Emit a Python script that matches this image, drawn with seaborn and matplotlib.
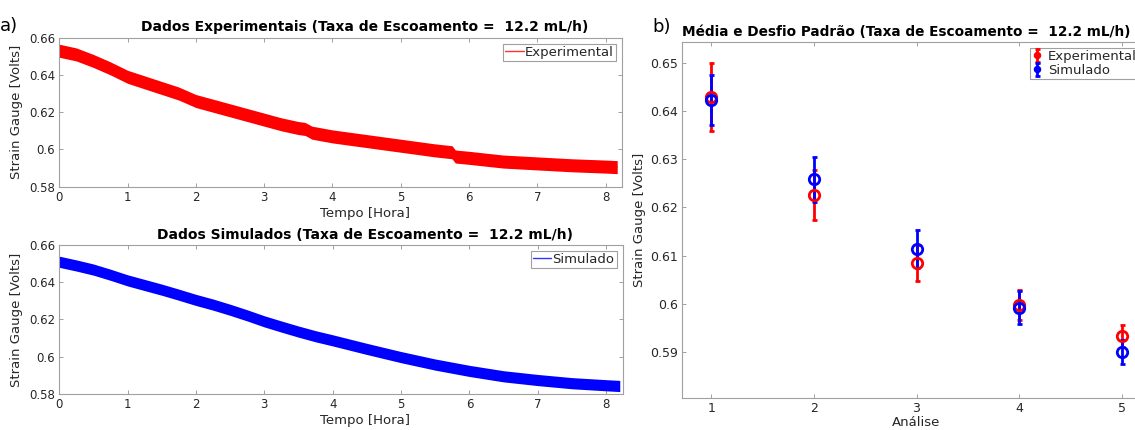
import numpy as np
import pandas as pd
import matplotlib
matplotlib.use("Agg")
import matplotlib.pyplot as plt
from matplotlib.lines import Line2D
import seaborn as sns

# ---------------- data ----------------
# Experimental strain-gauge signal: time [h] with upper/lower envelope of the noisy trace
exp_time = [0.0, 0.25, 0.5, 0.75, 1.0, 1.25, 1.5, 1.75, 2.0, 2.25, 2.5, 2.75, 3.0,
            3.25, 3.5, 3.6, 3.7, 4.0, 4.5, 5.0, 5.5, 5.75, 5.8, 6.0, 6.5, 7.0, 7.5,
            8.0, 8.17]
exp_upper = [0.6565, 0.6545, 0.6510, 0.6470, 0.6425, 0.6395, 0.6365, 0.6335, 0.6295,
             0.6270, 0.6245, 0.6220, 0.6195, 0.6170, 0.6150, 0.6145, 0.6125, 0.6105,
             0.6080, 0.6055, 0.6030, 0.6020, 0.5997, 0.5990, 0.5970, 0.5960, 0.5950,
             0.5943, 0.5940]
exp_lower = [0.6495, 0.6475, 0.6440, 0.6400, 0.6355, 0.6325, 0.6295, 0.6265, 0.6225,
             0.6200, 0.6175, 0.6150, 0.6125, 0.6100, 0.6080, 0.6075, 0.6055, 0.6035,
             0.6010, 0.5985, 0.5960, 0.5950, 0.5927, 0.5920, 0.5900, 0.5890, 0.5880,
             0.5873, 0.5870]

# Simulated signal: time [h] with upper/lower envelope
sim_time = [0.0, 0.25, 0.5, 0.75, 1.0, 1.25, 1.5, 1.75, 2.0, 2.25, 2.5, 2.75, 3.0,
            3.25, 3.5, 3.75, 4.0, 4.5, 5.0, 5.5, 6.0, 6.5, 7.0, 7.5, 8.0, 8.2]
sim_upper = [0.6540, 0.6520, 0.6498, 0.6470, 0.6440, 0.6415, 0.6390, 0.6363, 0.6335,
             0.6310, 0.6282, 0.6252, 0.6220, 0.6192, 0.6165, 0.6140, 0.6118, 0.6072,
             0.6028, 0.5988, 0.5954, 0.5925, 0.5905, 0.5888, 0.5877, 0.5873]
sim_lower = [0.6480, 0.6460, 0.6438, 0.6410, 0.6380, 0.6355, 0.6330, 0.6303, 0.6275,
             0.6250, 0.6222, 0.6192, 0.6160, 0.6132, 0.6105, 0.6080, 0.6058, 0.6012,
             0.5968, 0.5928, 0.5894, 0.5865, 0.5845, 0.5828, 0.5817, 0.5813]

# Mean and standard deviation per analysis
analysis = [1, 2, 3, 4, 5]
exp_mean = [0.6429, 0.6226, 0.6084, 0.5997, 0.5933]
exp_std = [0.0070, 0.0052, 0.0037, 0.0031, 0.0022]
sim_mean = [0.6423, 0.6258, 0.6114, 0.5992, 0.5900]
sim_std = [0.0051, 0.0047, 0.0040, 0.0034, 0.0025]

title_top = "Dados Experimentais (Taxa de Escoamento =  12.2 mL/h)"
title_bot = "Dados Simulados (Taxa de Escoamento =  12.2 mL/h)"
title_right = "Média e Desfio Padrão (Taxa de Escoamento =  12.2 mL/h)"

# ---------------- style ----------------
sns.set_theme(style="white")
plt.rcParams["font.family"] = ["DejaVu Sans"]

SPINE = "#a0a0a0"
TXT = "#262626"
TICK_FS = 8.5
LAB_FS = 9.5
TIT_FS = 10.0

fig = plt.figure(figsize=(11.35, 4.30), dpi=100)
W, H = 1135.0, 430.0


def axes_px(left, top, right, bottom):
    return fig.add_axes([left / W, 1 - bottom / H, (right - left) / W, (bottom - top) / H])


def style_axes(ax):
    for s in ax.spines.values():
        s.set_color(SPINE)
        s.set_linewidth(0.8)
        s.set_visible(True)
    ax.tick_params(direction="in", length=3, width=0.7, color=SPINE, labelcolor=TXT,
                   labelsize=TICK_FS, top=True, right=True, bottom=True, left=True, pad=3)


def long_form(t, up, lo):
    return pd.DataFrame({"t": list(t) + list(t), "v": list(up) + list(lo)})


ax1 = axes_px(59.3, 37.7, 622.0, 186.7)
ax2 = axes_px(59.3, 245.0, 622.5, 394.0)
ax3 = axes_px(682.0, 41.7, 1151.0, 397.7)

for ax, t, up, lo, col, lcol, lab, tit, pad in [
    (ax1, exp_time, exp_upper, exp_lower, "#ff0000", "#ff3333", "Experimental", title_top, 5),
    (ax2, sim_time, sim_upper, sim_lower, "#0000ff", "#3333ff", "Simulado", title_bot, 4),
]:
    df = long_form(t, up, lo)
    sns.lineplot(data=df, x="t", y="v", ax=ax, color=col, linewidth=0.6,
                 estimator="mean", errorbar=("pi", 100),
                 err_kws={"alpha": 1.0, "linewidth": 0}, legend=False)
    ax.set_xlim(0, 8.24)
    ax.set_ylim(0.58, 0.66)
    ax.set_xticks(range(0, 9))
    ax.set_yticks([0.58, 0.60, 0.62, 0.64, 0.66])
    ax.set_yticklabels(["0.58", "0.6", "0.62", "0.64", "0.66"])
    style_axes(ax)
    ax.set_title(tit, fontsize=TIT_FS, fontweight="bold", color="black", x=0.543, pad=pad)
    ax.set_xlabel("Tempo [Hora]", fontsize=LAB_FS, color=TXT)
    ax.xaxis.set_label_coords(0.543, -0.135)
    ax.set_ylabel("Strain Gauge [Volts]", fontsize=LAB_FS, color=TXT)
    ax.yaxis.set_label_coords(-0.064, 0.5)
    handle = Line2D([], [], color=lcol, linewidth=1.0)
    leg = ax.legend([handle], [lab], loc="upper right", fontsize=LAB_FS, frameon=True,
                    fancybox=False, framealpha=1, edgecolor=SPINE, borderpad=0.15,
                    handlelength=1.4, handletextpad=0.1, borderaxespad=0.45)
    leg.get_frame().set_linewidth(0.8)
    for txt in leg.get_texts():
        txt.set_color(TXT)

# right panel
ekw = dict(fmt="o", mfc="none", ms=7.5, mew=2.0, elinewidth=2.0, capsize=1.8, capthick=2.0)
ax3.errorbar(analysis, exp_mean, yerr=exp_std, color="#ff0000", mec="#ff0000",
             label="Experimental", **ekw)
ax3.errorbar(analysis, sim_mean, yerr=sim_std, color="#0000ff", mec="#0000ff",
             label="Simulado", **ekw)
ax3.set_xlim(0.714, 5.286)
ax3.set_ylim(0.5805, 0.6544)
ax3.set_xticks(analysis)
ax3.set_yticks([0.59, 0.60, 0.61, 0.62, 0.63, 0.64, 0.65])
ax3.set_yticklabels(["0.59", "0.6", "0.61", "0.62", "0.63", "0.64", "0.65"])
style_axes(ax3)
ax3.tick_params(labelsize=9)
ax3.set_title(title_right, fontsize=9.8, fontweight="bold", color="black", loc="left", pad=4)
ax3.set_xlabel("Análise", fontsize=LAB_FS, color=TXT)
ax3.xaxis.set_label_coords(0.5, -0.052)
ax3.set_ylabel("Strain Gauge [Volts]", fontsize=LAB_FS, color=TXT)
ax3.yaxis.set_label_coords(-0.077, 0.5)
leg3 = ax3.legend(loc="upper left", bbox_to_anchor=(0.742, 0.983), fontsize=LAB_FS,
                  frameon=True, fancybox=False, framealpha=1, edgecolor=SPINE,
                  borderpad=0.15, handlelength=0.8, handletextpad=0.4,
                  borderaxespad=0.0, markerscale=0.45, labelspacing=0.1)
leg3.get_frame().set_linewidth(0.8)
for txt in leg3.get_texts():
    txt.set_color(TXT)

fig.text(0.0, 1 - 31 / H, "a)", fontsize=13, color="black", ha="left", va="baseline")
fig.text(652 / W, 1 - 32 / H, "b)", fontsize=13, color="black", ha="left", va="baseline")

fig.savefig("out.png", dpi=100, facecolor="white")
